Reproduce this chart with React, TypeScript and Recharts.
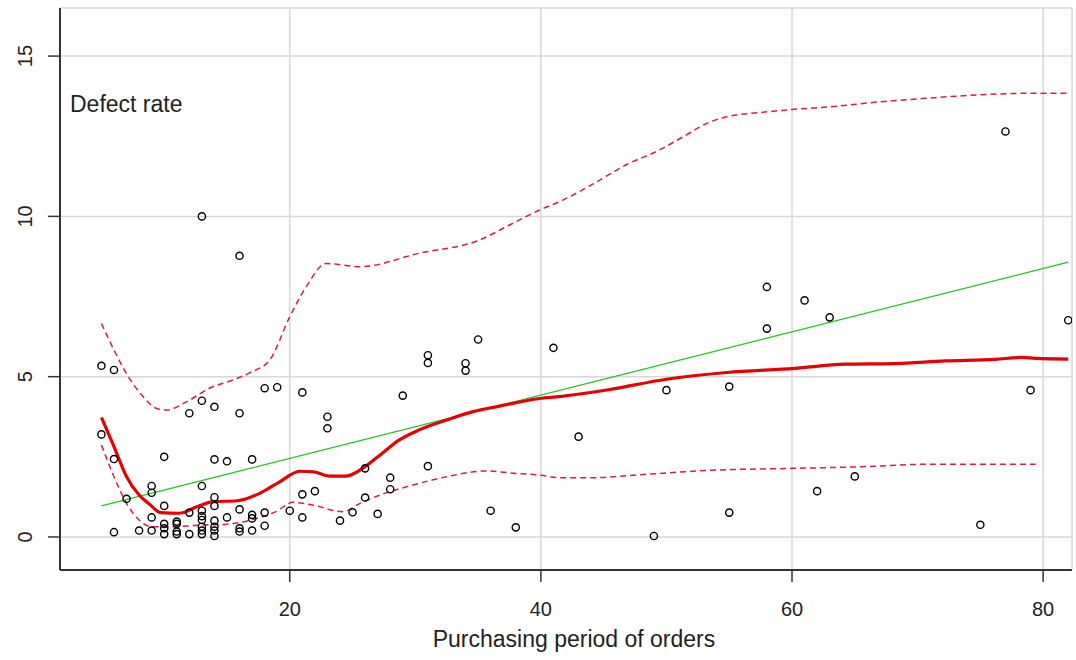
import { ComposedChart, Line, Scatter, XAxis, YAxis, CartesianGrid } from "recharts"

// observed orders: purchasing period (x) and defect rate (y)
const pointX = [
  5, 5, 6, 6, 6, 7, 8, 9, 9, 9, 9, 10, 10, 10, 10, 10, 11, 11, 11, 11, 12, 12, 12,
  13, 13, 13, 13, 13, 13, 13, 13, 13, 14, 14, 14, 14, 14, 14, 14, 14, 15, 15,
  16, 16, 16, 16, 16, 17, 17, 17, 17, 18, 18, 18, 19, 20, 21, 21, 21, 22, 23, 23,
  24, 25, 26, 26, 27, 28, 28, 29, 31, 31, 31, 34, 34, 35, 36, 38, 41, 43, 49, 50,
  55, 55, 58, 58, 61, 62, 63, 65, 75, 77, 79, 82,
]
const pointY = [
  5.34, 3.2, 5.21, 2.43, 0.15, 1.19, 0.2, 1.59, 1.38, 0.61, 0.2, 2.5, 0.97, 0.41, 0.27, 0.09,
  0.48, 0.41, 0.17, 0.09, 3.86, 0.76, 0.09,
  10.0, 4.25, 1.59, 0.82, 0.65, 0.53, 0.32, 0.2, 0.09, 4.06, 2.42, 1.24, 0.97, 0.51, 0.32, 0.2,
  0.03, 2.36, 0.61,
  8.77, 3.86, 0.86, 0.27, 0.17, 2.42, 0.69, 0.58, 0.2, 4.64, 0.76, 0.35, 4.67, 0.82, 4.51, 1.33,
  0.61, 1.43, 3.75, 3.39,
  0.51, 0.77, 2.14, 1.23, 0.72, 1.85, 1.49, 4.41, 5.67, 5.43, 2.21, 5.42, 5.19, 6.16, 0.82, 0.3,
  5.9, 3.13, 0.03, 4.58,
  4.69, 0.76, 7.8, 6.5, 7.38, 1.43, 6.85, 1.89, 0.38, 12.65, 4.58, 6.76,
]

// linear fit (green)
const fitX = [5, 82]
const fitY = [0.97, 8.57]

// smoother (solid red)
const smoothX = [
  5, 6, 7, 8, 8.9, 9.7, 11.2, 12.6, 13.9, 15.8, 17.6, 19.2, 20.8, 21.9, 23.2, 24.5, 25.8,
  27.2, 28.7, 30.3, 32.5, 34.6, 36.7, 39.9, 41.5, 45.5, 50, 54.8, 60.2, 64.2, 68.2, 72.2,
  76.2, 78.3, 79.4, 82,
]
const smoothY = [
  3.73, 2.82, 1.88, 1.31, 1.0, 0.76, 0.74, 0.94, 1.1, 1.13, 1.36, 1.72, 2.05, 2.03, 1.9, 1.9,
  2.14, 2.56, 3.02, 3.34, 3.65, 3.91, 4.08, 4.32, 4.38, 4.6, 4.92, 5.13, 5.26, 5.39, 5.41, 5.49,
  5.54, 5.6, 5.57, 5.55,
]

// spread bands (dashed red)
const upperX = [
  5, 6, 7.3, 8.1, 9.4, 10.2, 11.8, 13.6, 15.5, 16.8, 18.4, 20, 21.3, 22.9, 25.6, 30.3, 35.1,
  37.5, 39.9, 41.5, 44.1, 46.8, 49.5, 51.4, 53.5, 54.8, 57.5, 60.2, 62.8, 66.9, 70.9, 74.9,
  78.9, 82,
]
const upperY = [
  6.66, 5.83, 4.9, 4.48, 4.01, 3.96, 4.22, 4.64, 4.9, 5.12, 5.52, 6.87, 7.8, 8.53, 8.43, 8.85,
  9.26, 9.73, 10.2, 10.46, 11.0, 11.61, 12.08, 12.5, 12.95, 13.11, 13.24, 13.34, 13.41, 13.57,
  13.69, 13.79, 13.84, 13.84,
]
const lowerX = [
  5, 6, 7, 8, 9, 10.7, 12.8, 15, 17.1, 18.9, 20.25, 21.8, 24.2, 25.6, 27.2, 29.8, 32.5, 35.6,
  37.8, 39.9, 41.5, 44.1, 48.2, 53.5, 60.2, 65.5, 70.9, 79.4,
]
const lowerY = [
  2.87, 1.88, 1.05, 0.53, 0.32, 0.32, 0.37, 0.4, 0.55, 0.79, 1.08, 1.0, 0.79, 1.05, 1.31, 1.62,
  1.88, 2.06, 1.99, 1.93, 1.85, 1.85, 1.95, 2.08, 2.14, 2.19, 2.27, 2.27,
]

const xTicks = [20, 40, 60, 80]
const yTicks = [0, 5, 10, 15]

const zip = (xs: number[], ys: number[]) => xs.map((x, i) => ({ x, y: ys[i] }))

const points = zip(pointX, pointY)
const fit = zip(fitX, fitY)
const smooth = zip(smoothX, smoothY)
const upper = zip(upperX, upperY)
const lower = zip(lowerX, lowerY)

const font = "'Liberation Sans', Arial, sans-serif"

function XTick({ x, payload }: any) {
  return (
    <text x={x} y={616} textAnchor="middle" fontSize={20} fontFamily={font} fill="#222">
      {payload.value}
    </text>
  )
}

function YTick({ y, payload }: any) {
  return (
    <text
      x={32}
      y={y}
      transform={`rotate(-90 32 ${y})`}
      textAnchor="middle"
      fontSize={20}
      fontFamily={font}
      fill="#222"
    >
      {payload.value}
    </text>
  )
}

function OpenDot({ cx, cy }: any) {
  return <circle cx={cx} cy={cy} r={3.6} fill="none" stroke="#000" strokeWidth={1.4} />
}

export default function App() {
  return (
    <div style={{ position: "absolute", left: 0, top: 0, width: 1076, height: 660, background: "#fff" }}>
      <ComposedChart width={1076} height={660} margin={{ top: 8, right: 4, bottom: 0, left: 0 }}>
        <CartesianGrid stroke="#d8d8d8" strokeWidth={1.5} />
        <XAxis
          type="number"
          dataKey="x"
          domain={[1.7, 82.3]}
          ticks={xTicks}
          allowDataOverflow
          height={90}
          tick={<XTick />}
          tickSize={12}
          axisLine={{ stroke: "#333", strokeWidth: 2 }}
          tickLine={{ stroke: "#333", strokeWidth: 1.5 }}
        />
        <YAxis
          type="number"
          dataKey="y"
          domain={[-1.03, 16.5]}
          ticks={yTicks}
          allowDataOverflow
          width={60}
          tick={<YTick />}
          tickSize={12}
          axisLine={{ stroke: "#333", strokeWidth: 2 }}
          tickLine={{ stroke: "#333", strokeWidth: 1.5 }}
        />
        <Scatter data={points} dataKey="y" shape={<OpenDot />} isAnimationActive={false} />
        <Line data={fit} dataKey="y" type="linear" stroke="#22c022" strokeWidth={1.3} dot={false} isAnimationActive={false} />
        <Line data={upper} dataKey="y" type="monotone" stroke="#d3203c" strokeWidth={1.5} strokeDasharray="6 4" dot={false} isAnimationActive={false} />
        <Line data={lower} dataKey="y" type="monotone" stroke="#d3203c" strokeWidth={1.5} strokeDasharray="6 4" dot={false} isAnimationActive={false} />
        <Line data={smooth} dataKey="y" type="monotone" stroke="#e60000" strokeWidth={3.2} dot={false} isAnimationActive={false} />
      </ComposedChart>
      <div style={{ position: "absolute", left: 70, top: 93, fontFamily: font, fontSize: 23, lineHeight: "23px", color: "#222", whiteSpace: "nowrap" }}>
        Defect rate
      </div>
      <div style={{ position: "absolute", left: 574, top: 628, transform: "translateX(-50%)", fontFamily: font, fontSize: 23, lineHeight: "23px", color: "#222", whiteSpace: "nowrap" }}>
        Purchasing period of orders
      </div>
    </div>
  )
}
